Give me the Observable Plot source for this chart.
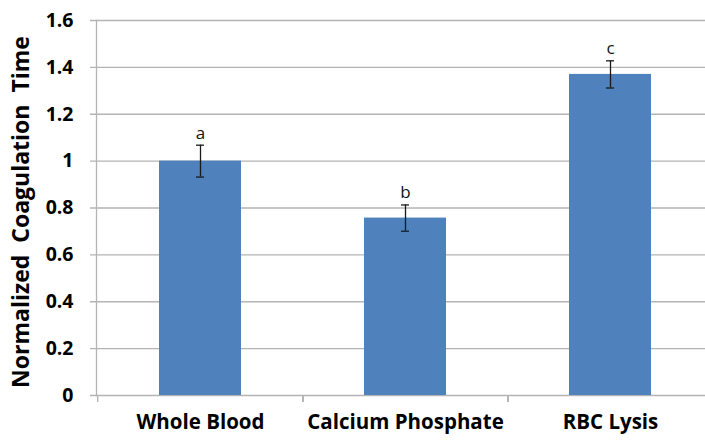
<!DOCTYPE html>
<html>
<head>
<meta charset="utf-8">
<script src="https://cdn.jsdelivr.net/npm/d3@7"></script>
<script src="https://cdn.jsdelivr.net/npm/@observablehq/plot@0.6"></script>
<style>
  html, body { margin: 0; padding: 0; background: #fff; overflow: hidden; }
  #chart svg { display: block; }
</style>
</head>
<body>
<div id="chart"></div>
<script>
const categories = ["Whole Blood", "Calcium Phosphate", "RBC Lysis"];
const values = [1.0, 0.757, 1.37];
const errors = [0.068, 0.056, 0.058];
const letters = ["a", "b", "c"];
const yTicks = [0, 0.2, 0.4, 0.6, 0.8, 1, 1.2, 1.4, 1.6];
const yTitle = "Normalized  Coagulation  Time";

const data = categories.map((c, i) => ({
  cat: c, v: values[i], lo: values[i] - errors[i], hi: values[i] + errors[i], letter: letters[i]
}));

const font = "'Open Sans', 'DejaVu Sans', sans-serif";
const grey = "#b4b4b4";

const chart = Plot.plot({
  width: 705,
  height: 440,
  marginLeft: 96,
  marginRight: -8,
  marginTop: 20,
  marginBottom: 45,
  style: { fontFamily: font, background: "#fff", overflow: "visible" },
  x: { domain: categories, paddingInner: 0.6, paddingOuter: 0.3, axis: null },
  y: { domain: [0, 1.6], axis: null },
  marks: [
    Plot.gridY(yTicks, { stroke: grey, strokeOpacity: 1, strokeWidth: 1.3, insetLeft: -6 }),
    Plot.frame({ anchor: "left", stroke: grey, strokeWidth: 1.3 }),
    Plot.ruleX(categories, { x: d => d, y1: 0, y2: 0, dx: -102.8, insetBottom: -7, stroke: grey, strokeWidth: 1.3 }),
    Plot.ruleX(categories, { x: d => d, y1: 0, y2: 0, dx: 102.8, insetBottom: -7, stroke: grey, strokeWidth: 1.3 }),
    Plot.text(yTicks, {
      y: d => d, text: d => String(d), frameAnchor: "left", textAnchor: "end", dx: -23,
      fontSize: 19.5, fontWeight: "bold", fill: "#000"
    }),
    Plot.text([yTitle], {
      text: d => d, frameAnchor: "left", textAnchor: "middle", rotate: -90, dx: -75, dy: 4,
      fontSize: 23, fontWeight: "bold", fill: "#000"
    }),
    Plot.barY(data, { x: "cat", y: "v", fill: "#4f81bd" }),
    Plot.ruleX(data, { x: "cat", y1: "lo", y2: "hi", stroke: "#1a1a1a", strokeWidth: 1.3 }),
    Plot.tickY(data, { x: "cat", y: "lo", stroke: "#1a1a1a", strokeWidth: 1.3, insetLeft: 37, insetRight: 37 }),
    Plot.tickY(data, { x: "cat", y: "hi", stroke: "#1a1a1a", strokeWidth: 1.3, insetLeft: 37, insetRight: 37 }),
    Plot.text(data, { x: "cat", y: "hi", text: "letter", dy: -12, fontSize: 17, fill: "#111" }),
    Plot.text(categories, {
      x: d => d, text: d => d, frameAnchor: "bottom", dy: 33,
      fontSize: 20.5, fontWeight: "bold", fill: "#000"
    })
  ]
});
document.getElementById("chart").appendChild(chart);
</script>
</body>
</html>
